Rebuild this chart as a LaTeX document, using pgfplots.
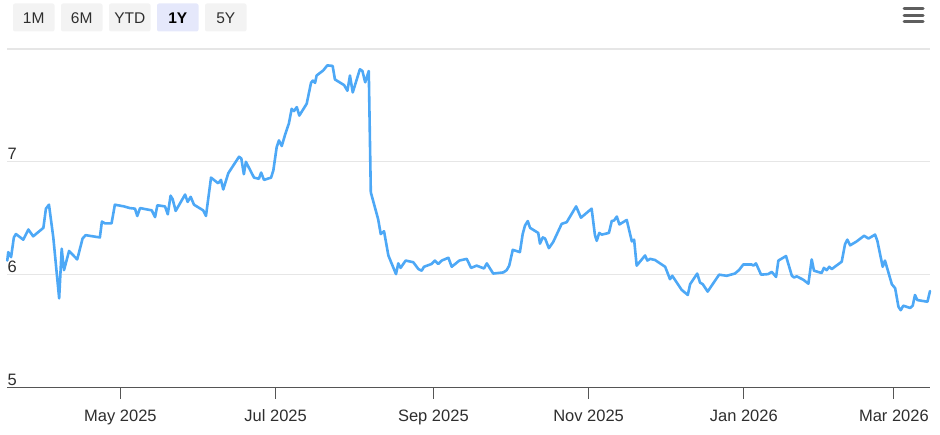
\documentclass[border=0pt]{standalone}
\usepackage{fontspec}
\setmainfont{Liberation Sans}
\usepackage{pgfplots}
\pgfplotsset{compat=1.18}
\usepackage{pgfplotstable}

\definecolor{linecol}{HTML}{4DA8F6}
\definecolor{gridcol}{HTML}{E6E6E6}
\definecolor{axiscol}{HTML}{555555}
\definecolor{txtcol}{HTML}{2E2E2E}
\definecolor{btncol}{HTML}{F3F3F3}
\definecolor{btnsel}{HTML}{E5E8FB}
\definecolor{menucol}{HTML}{5E5E5E}

% x = days since 1 May 2025, y = value
\pgfplotstableread{
x y
-44.5 6.125
-44.1 6.20
-43.0 6.155
-41.9 6.33
-41.1 6.36
-38.2 6.31
-36.2 6.40
-34.3 6.34
-30.3 6.415
-29.3 6.585
-28.1 6.62
-26.4 6.33
-24.1 5.79
-23.1 6.23
-22.2 6.04
-20.2 6.21
-17.0 6.135
-14.9 6.32
-13.7 6.35
-8.1 6.33
-7.3 6.47
-6.1 6.455
-3.5 6.455
-2.2 6.62
1.4 6.605
3.7 6.59
5.7 6.585
6.6 6.52
7.7 6.59
12.3 6.57
13.6 6.51
14.5 6.615
17.5 6.605
18.6 6.535
19.7 6.70
20.5 6.67
21.7 6.565
25.4 6.71
26.4 6.645
27.6 6.69
28.9 6.62
32.5 6.57
33.6 6.52
35.6 6.86
38.4 6.81
39.5 6.84
40.4 6.755
42.4 6.90
46.6 7.045
47.5 7.03
48.5 6.89
49.3 7.00
52.5 6.86
54.4 6.85
55.3 6.905
56.4 6.84
59.2 6.86
60.1 6.925
61.4 7.13
62.3 7.19
63.4 7.14
64.7 7.24
66.2 7.34
67.3 7.47
68.2 7.45
69.3 7.485
70.3 7.41
73.2 7.515
74.9 7.70
75.6 7.72
76.5 7.70
77.1 7.765
79.7 7.81
81.3 7.855
83.4 7.85
84.3 7.73
87.9 7.68
89.2 7.63
90.2 7.765
91.3 7.615
94.1 7.82
95.1 7.805
96.2 7.705
97.6 7.805
98.4 6.73
101.3 6.49
102.3 6.36
103.6 6.385
105.3 6.17
108.3 6.005
109.2 6.10
110.1 6.06
112.1 6.125
115.1 6.11
117.1 6.05
118.4 6.035
119.3 6.07
122.3 6.095
123.6 6.125
124.9 6.095
126.3 6.125
128.9 6.15
130.2 6.07
133.2 6.125
136.1 6.14
137.8 6.06
140.0 6.08
142.9 6.055
144.0 6.10
146.5 6.01
150.5 6.02
151.8 6.04
152.8 6.08
154.2 6.22
157.0 6.20
158.1 6.36
159.0 6.435
160.1 6.475
161.0 6.415
164.2 6.37
164.9 6.275
166.0 6.33
166.9 6.32
168.4 6.235
170.1 6.29
172.8 6.42
173.4 6.45
175.4 6.465
179.1 6.605
181.0 6.505
185.2 6.585
186.5 6.35
187.2 6.30
188.2 6.37
189.2 6.355
192.0 6.37
193.1 6.475
194.0 6.48
195.1 6.515
196.1 6.445
199.0 6.485
201.0 6.295
201.9 6.31
202.9 6.08
206.2 6.17
207.1 6.125
208.2 6.14
210.1 6.13
214.1 6.07
216.0 5.96
216.9 5.99
220.6 5.865
223.0 5.82
223.9 5.915
226.7 6.01
227.8 5.93
228.9 5.915
230.8 5.85
235.3 6.00
238.3 5.99
241.5 6.01
243.1 6.04
244.8 6.09
248.1 6.09
248.8 6.08
249.8 6.10
251.8 6.00
254.6 6.005
256.0 6.025
257.7 5.98
258.6 6.125
261.6 6.165
263.9 5.99
264.8 5.975
265.8 5.985
268.4 5.955
270.4 5.92
271.7 6.135
272.6 6.035
275.6 6.015
276.5 6.06
277.6 6.04
278.6 6.07
279.6 6.05
283.5 6.115
284.8 6.27
285.7 6.31
286.8 6.26
289.4 6.295
292.3 6.345
294.0 6.32
296.6 6.355
297.5 6.30
299.6 6.07
300.5 6.125
303.2 5.915
304.5 5.88
305.8 5.715
306.7 5.685
307.7 5.725
310.4 5.705
311.4 5.725
312.3 5.82
313.2 5.775
317.2 5.76
318.2 5.855
}\series

\begin{document}
\begin{tikzpicture}[x=1pt,y=1pt]
\path[use as bounding box] (0,0) rectangle (940,-435);

% range buttons
\tikzset{btn/.style={fill=btncol, rounded corners=2pt}}
\fill[btn] (13,-3.5) rectangle (54.5,-31.5);
\fill[btn] (61,-3.5) rectangle (102.5,-31.5);
\fill[btn] (109,-3.5) rectangle (150.5,-31.5);
\fill[btn, fill=btnsel] (157,-3.5) rectangle (198.5,-31.5);
\fill[btn] (205,-3.5) rectangle (246.5,-31.5);
\begin{scope}[every node/.style={font=\fontsize{15.5}{18}\selectfont, text=txtcol, inner sep=0pt}]
\node at (33.75,-18) {1M};
\node at (81.75,-18) {6M};
\node at (129.75,-18) {YTD};
\node[text=black] at (177.75,-18) {\bfseries 1Y};
\node at (225.75,-18) {5Y};
\end{scope}

% menu icon
\draw[menucol, line width=3pt, line cap=round] (904,-9) -- (923,-9);
\draw[menucol, line width=3pt, line cap=round] (904,-15.5) -- (923,-15.5);
\draw[menucol, line width=3pt, line cap=round] (904,-22) -- (923,-22);

\begin{axis}[
  at={(7pt,-387.5pt)}, anchor=south west,
  scale only axis,
  width=923pt, height=338.5pt,
  xmin=-44.6, xmax=318.2,
  ymin=5, ymax=8,
  axis x line*=bottom, axis y line*=left,
  x axis line style={draw=axiscol, line width=1.6pt},
  y axis line style={draw=none},
  xtick={0,61,123,184,245,304},
  xticklabels={May 2025, Jul 2025, Sep 2025, Nov 2025, Jan 2026, Mar 2026},
  xtick align=outside,
  major tick length=11pt,
  xtick style={draw=axiscol, line width=1pt},
  ytick={5,6,7,8},
  yticklabels={5,6,7,{}},
  ytick style={draw=none},
  ymajorgrids,
  grid style={draw=gridcol, line width=1.2pt},
  ticklabel style={font=\fontsize{16.5}{19}\selectfont, text=txtcol},
  /pgf/number format/assume math mode=true,
  xticklabel style={anchor=north, yshift=-8pt},
  yticklabel style={anchor=south west, inner xsep=0.5pt, inner ysep=2pt, xshift=0pt},
  clip=false,
]
\addplot[linecol, line width=2.6pt, line join=round, line cap=round] table[x=x, y=y] {\series};
\end{axis}
\end{tikzpicture}
\end{document}
